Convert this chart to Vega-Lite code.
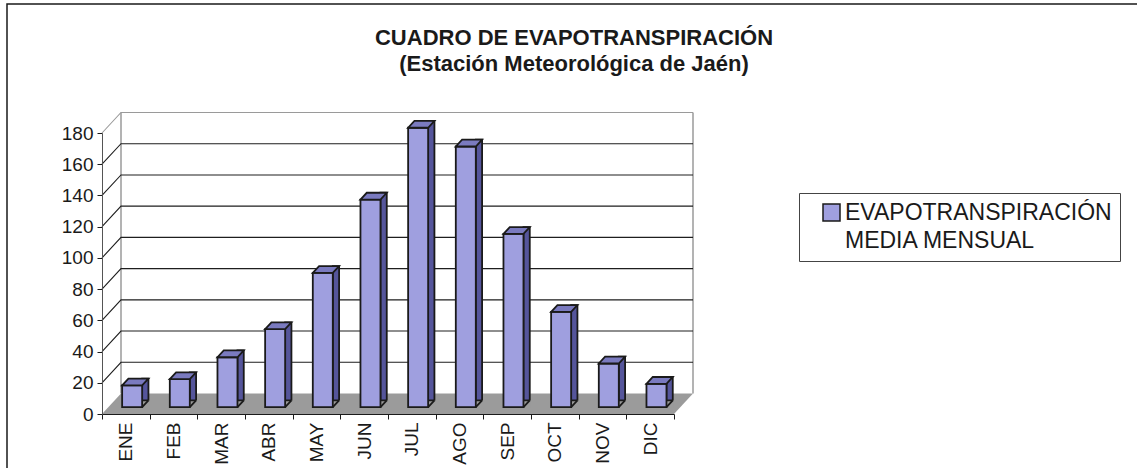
{
  "$schema": "https://vega.github.io/schema/vega-lite/v6.json",
  "width": 1140,
  "height": 470,
  "autosize": {"type": "none"},
  "padding": {"left": 7, "top": 4, "right": 0, "bottom": 0},
  "background": "white",
  "title": {
    "text": ["CUADRO DE EVAPOTRANSPIRACIÓN", "(Estación Meteorológica de Jaén)"],
    "font": "Liberation Sans",
    "fontSize": 22,
    "fontWeight": "bold",
    "color": "#1a1a1a",
    "lineHeight": 26,
    "anchor": "middle",
    "frame": "group",
    "offset": -72,
    "dx": -3
  },
  "datasets": {
    "meses": [
      {"mes": "ENE", "valor": 14},
      {"mes": "FEB", "valor": 18},
      {"mes": "MAR", "valor": 32},
      {"mes": "ABR", "valor": 50},
      {"mes": "MAY", "valor": 86},
      {"mes": "JUN", "valor": 133},
      {"mes": "JUL", "valor": 179},
      {"mes": "AGO", "valor": 167},
      {"mes": "SEP", "valor": 111},
      {"mes": "OCT", "valor": 61},
      {"mes": "NOV", "valor": 28},
      {"mes": "DIC", "valor": 15}
    ],
    "escala": [
      {"v": 20}, {"v": 40}, {"v": 60}, {"v": 80}, {"v": 100},
      {"v": 120}, {"v": 140}, {"v": 160}, {"v": 180}
    ]
  },
  "layer": [
    {
      "data": {"values": [{}]},
      "mark": {"type": "point", "shape": "M0,0L572,0L591,-20.5L19,-20.5Z", "size": 4, "filled": true, "fill": "#9b9b9b", "strokeWidth": 0, "opacity": 1},
      "encoding": {
        "x": {"datum": "ENE", "type": "nominal", "bandPosition": 0, "title": null},
        "y": {"datum": 0, "type": "quantitative", "title": null}
      }
    },
    {
      "data": {"values": [{}]},
      "mark": {"type": "rule", "color": "#9a9a9a", "strokeWidth": 1.5, "xOffset": 19, "yOffset": -20.5, "y2Offset": -20.5},
      "encoding": {
        "x": {"datum": "ENE", "type": "nominal", "bandPosition": 0, "title": null},
        "y": {"datum": 0, "type": "quantitative", "title": null},
        "y2": {"datum": 180}
      }
    },
    {
      "data": {"values": [{}]},
      "mark": {"type": "rule", "color": "#9a9a9a", "strokeWidth": 1.5, "xOffset": 19, "yOffset": -20.5, "y2Offset": -20.5},
      "encoding": {
        "x": {"datum": "DIC", "type": "nominal", "bandPosition": 1, "title": null},
        "y": {"datum": 0, "type": "quantitative", "title": null},
        "y2": {"datum": 180}
      }
    },
    {
      "data": {"name": "escala"},
      "mark": {"type": "point", "shape": "M0,0L19,-20.5L591,-20.5", "size": 4, "filled": false, "strokeWidth": 1.1, "opacity": 1},
      "encoding": {
        "x": {"datum": "ENE", "type": "nominal", "bandPosition": 0, "title": null},
        "y": {"field": "v", "type": "quantitative", "title": null},
        "stroke": {"condition": {"test": "datum.v === 180", "value": "#9a9a9a"}, "value": "#1e1e1e"}
      }
    },
    {
      "data": {"name": "meses"},
      "mark": {"type": "bar", "width": 6.3, "xOffset": 19.45, "yOffset": -13.6, "y2Offset": -6.8, "fill": "#55559b", "stroke": "#1a1a1a", "strokeWidth": 1.8},
      "encoding": {
        "x": {"field": "mes", "type": "nominal", "title": null},
        "y": {"field": "valor", "type": "quantitative", "title": null}
      }
    },
    {
      "data": {"name": "meses"},
      "mark": {"type": "point", "shape": "M16.3,-6.8L22.6,-13.6L23.8,-13.6L23.8,-5.6L16.3,-5.6Z", "size": 4, "filled": true, "fill": "#9b9b9b", "strokeWidth": 0, "opacity": 1},
      "encoding": {
        "x": {"field": "mes", "type": "nominal", "title": null},
        "y": {"datum": 0, "type": "quantitative", "title": null}
      }
    },
    {
      "data": {"name": "meses"},
      "mark": {"type": "point", "shape": "M16.3,-6.8L22.6,-13.6", "size": 4, "filled": false, "stroke": "#1a1a1a", "strokeWidth": 1.8, "opacity": 1},
      "encoding": {
        "x": {"field": "mes", "type": "nominal", "title": null},
        "y": {"datum": 0, "type": "quantitative", "title": null}
      }
    },
    {
      "data": {"name": "meses"},
      "mark": {"type": "bar", "width": 20, "xOffset": 6.3, "yOffset": -6.8, "y2Offset": -6.8, "stroke": "#1a1a1a", "strokeWidth": 1.8},
      "encoding": {
        "x": {
          "field": "mes",
          "type": "nominal",
          "title": null,
          "scale": {
            "type": "band",
            "domain": ["ENE", "FEB", "MAR", "ABR", "MAY", "JUN", "JUL", "AGO", "SEP", "OCT", "NOV", "DIC"],
            "range": [95, 667],
            "paddingInner": 0,
            "paddingOuter": 0
          },
          "axis": {
            "orient": "bottom",
            "offset": -60,
            "tickBand": "extent",
            "labelAngle": 270,
            "labelAlign": "right",
            "labelBaseline": "middle",
            "labelPadding": 3,
            "labelFont": "Liberation Sans",
            "labelFontSize": 19,
            "labelColor": "#1a1a1a",
            "tickSize": 5,
            "tickColor": "#1a1a1a",
            "domainColor": "#1a1a1a",
            "grid": false,
            "zindex": 1
          }
        },
        "y": {
          "field": "valor",
          "type": "quantitative",
          "title": null,
          "scale": {"domain": [0, 180], "range": [410, 129], "nice": false},
          "axis": {
            "orient": "left",
            "offset": -95,
            "values": [0, 20, 40, 60, 80, 100, 120, 140, 160, 180],
            "labelPadding": 4,
            "labelFont": "Liberation Sans",
            "labelFontSize": 19,
            "labelColor": "#1a1a1a",
            "tickSize": 5,
            "tickColor": "#1a1a1a",
            "domainColor": "#555555",
            "grid": false,
            "zindex": 1
          }
        },
        "color": {
          "datum": "EVAPOTRANSPIRACIÓN MEDIA MENSUAL",
          "type": "nominal",
          "scale": {"range": ["#9f9fdf"]},
          "legend": {
            "orient": "none",
            "legendX": 792,
            "legendY": 189,
            "title": null,
            "padding": 8,
            "strokeColor": "#444444",
            "fillColor": "#ffffff",
            "symbolType": "square",
            "symbolSize": 289,
            "symbolStrokeColor": "#1a1a1a",
            "symbolStrokeWidth": 1.5,
            "symbolOffset": 13,
            "labelOffset": 2,
            "labelFont": "Liberation Sans",
            "labelFontSize": 23,
            "labelColor": "#1a1a1a",
            "labelLimit": 400,
            "labelExpr": "[substring(datum.label, 0, 18), substring(datum.label, 19)]",
            "encode": {
              "labels": {"update": {"lineHeight": {"value": 28}}}
            }
          }
        }
      }
    },
    {
      "data": {"name": "meses"},
      "mark": {"type": "point", "shape": "M-3.7,-6.8L16.3,-6.8L22.6,-13.6L2.6,-13.6Z", "size": 4, "filled": true, "fill": "#7a7abf", "stroke": "#1a1a1a", "strokeWidth": 1.8, "opacity": 1},
      "encoding": {
        "x": {"field": "mes", "type": "nominal", "title": null},
        "y": {"field": "valor", "type": "quantitative", "title": null}
      }
    }
  ],
  "config": {
    "view": {"stroke": "#1a1a1a", "strokeWidth": 1.5},
    "font": "Liberation Sans"
  }
}
